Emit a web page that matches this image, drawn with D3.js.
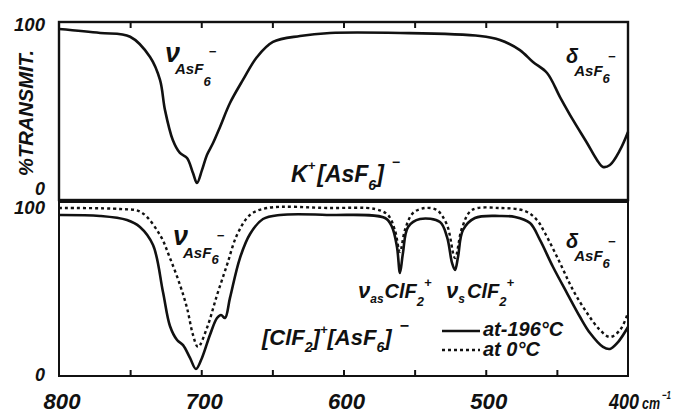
<!DOCTYPE html>
<html>
<head>
<meta charset="utf-8">
<script src="https://cdn.jsdelivr.net/npm/d3@7/dist/d3.min.js"></script>
<style>
  body { margin: 0; background: #fff; }
  text { font-family: "Liberation Sans", Arial, sans-serif; font-style: italic; font-weight: bold; fill: #111; }
</style>
</head>
<body>
<div id="chart"></div>
<script>
// K+[AsF6]- spectrum (top panel), wavenumber in cm-1 and % transmission
var kWn = [800, 771, 750, 736, 729, 725.5, 720, 715, 710, 705.8, 703, 699.5, 696, 691.7, 686.8, 679.8, 670.7, 660.8, 649.6, 630.6, 609.5, 560, 504, 490, 476, 466.8, 456.9, 447.8, 438.7, 428.8, 421.8, 417.6, 412.7, 405.6, 400];
var kT  = [97, 94.6, 92.3, 80.1, 66.3, 48.2, 30.1, 22.3, 19.3, 10.2, 4.2, 12, 21.1, 28.3, 38, 52.4, 66.3, 80.1, 89.2, 92.8, 94.6, 94.6, 92.8, 90.4, 84.3, 77.1, 70.5, 56, 42.2, 28.3, 18.1, 13.9, 15.1, 24.1, 34.9];

// [ClF2]+[AsF6]- at -196 C (bottom panel, solid)
var coldWn = [800, 771.2, 752.2, 743.1, 733.9, 726.9, 722, 717, 712.8, 707.9, 703.7, 699.5, 693.9, 688.9, 686.1, 683.3, 679.8, 672.8, 665.7, 656.6, 644.6, 609.5, 570.8, 565.9, 562.4, 560.3, 558.2, 554.6, 546.2, 532.2, 527.2, 523.7, 521.6, 519.5, 516, 507.6, 490, 479.4, 468.9, 461.9, 452.7, 442.9, 433.7, 426.7, 417.6, 412.7, 407, 400];
var coldT  = [95.3, 94.7, 92.3, 88.2, 77.5, 49.7, 29.6, 21.3, 18.3, 10.7, 4.1, 10.7, 24.3, 34.3, 36.1, 34.3, 46.2, 69.8, 84, 92.9, 95.3, 95.3, 93.5, 88.2, 76.3, 61, 72.8, 88.2, 92.9, 91.1, 82.2, 66.9, 62.7, 70.4, 86.4, 93.5, 94.7, 94.1, 90.5, 80.5, 64.5, 49.1, 34.9, 25.4, 17.2, 16, 20.1, 29];

// [ClF2]+[AsF6]- at 0 C (bottom panel, dotted)
var warmWn = [800, 757.1, 742.4, 729, 722, 714.9, 710, 705.8, 702.3, 696, 688.9, 681.9, 674.9, 665.7, 653.8, 609.5, 577.9, 568.8, 563.9, 560.3, 556.8, 551.2, 542.8, 534.4, 527.2, 521.6, 516.7, 509.7, 490, 472.4, 464, 458.4, 447.8, 438.7, 428.8, 419.7, 412.7, 405.6, 400];
var warmT  = [99.4, 98.8, 97, 83.4, 69.8, 53.8, 40.2, 24.3, 17.2, 28.4, 47.9, 65.7, 83.4, 95.3, 99.4, 99.4, 98.8, 95.3, 86.4, 73.4, 86.4, 96.4, 99.4, 98.2, 89.3, 69.8, 87.6, 98.2, 99.4, 97.6, 92.3, 84.6, 66.9, 50.9, 37.3, 27.2, 23.1, 27.2, 37.3];

var tickVals  = [750, 700, 650, 600, 550, 500, 450];
var xLabels   = [800, 700, 600, 500, 400];
var yLabels   = [100, 0];

var width = 675, height = 413;
var svg = d3.select("#chart").append("svg")
    .attr("width", width)
    .attr("height", height);

var ink = "#111";

// scales
var x = d3.scaleLinear().domain([800, 400]).range([59, 628]);
var yTop = d3.scaleLinear().domain([0, 100]).range([190, 24]);
var yBot = d3.scaleLinear().domain([0, 100]).range([376, 207]);

function zip(wn, t) { return wn.map(function(w, i) { return {wn: w, t: t[i]}; }); }

// panel frames
svg.append("rect").attr("x", 59).attr("y", 22).attr("width", 569).attr("height", 178)
  .attr("fill", "none").attr("stroke", ink).attr("stroke-width", 2.4);
svg.append("rect").attr("x", 59).attr("y", 202).attr("width", 569).attr("height", 174)
  .attr("fill", "none").attr("stroke", ink).attr("stroke-width", 2);

// inner ticks: top edge of the top panel and bottom edge of the bottom panel
var topTicks = svg.append("g").attr("transform", "translate(0,22)")
  .call(d3.axisBottom(x).tickValues(tickVals).tickSize(6).tickFormat(""));
var botTicks = svg.append("g").attr("transform", "translate(0,376)")
  .call(d3.axisTop(x).tickValues(tickVals).tickSize(6).tickFormat(""));
[topTicks, botTicks].forEach(function(g) {
  g.select(".domain").remove();
  g.selectAll("line").attr("stroke", ink).attr("stroke-width", 2);
});

// spectra
function lineFor(y) {
  return d3.line()
    .curve(d3.curveCatmullRom.alpha(0.5))
    .x(function(d) { return x(d.wn); })
    .y(function(d) { return y(d.t); });
}

svg.append("path").datum(zip(kWn, kT))
  .attr("fill", "none").attr("stroke", ink).attr("stroke-width", 2.6)
  .attr("d", lineFor(yTop));

svg.append("path").datum(zip(warmWn, warmT))
  .attr("fill", "none").attr("stroke", ink).attr("stroke-width", 2.4)
  .attr("stroke-dasharray", "3,3")
  .attr("d", lineFor(yBot));

svg.append("path").datum(zip(coldWn, coldT))
  .attr("fill", "none").attr("stroke", ink).attr("stroke-width", 2.6)
  .attr("d", lineFor(yBot));

// x tick labels (narrow hand lettering); the last one sits left of its tick to leave room for the unit
svg.selectAll(".xl").data(xLabels).enter().append("text")
  .attr("class", "xl")
  .attr("x", function(d) { return d === 400 ? x(d) - 4 : x(d) + 3; })
  .attr("y", 409)
  .attr("text-anchor", "middle")
  .attr("textLength", function(d) { return d === 400 ? 30 : 37; })
  .attr("lengthAdjust", "spacingAndGlyphs")
  .style("font-size", "22px")
  .text(function(d) { return d; });

svg.append("text").attr("x", x(400) + 14).attr("y", 409)
  .attr("textLength", 18).attr("lengthAdjust", "spacingAndGlyphs")
  .style("font-size", "16px").text("cm");
svg.append("text").attr("x", x(400) + 34).attr("y", 399)
  .attr("textLength", 9).attr("lengthAdjust", "spacingAndGlyphs")
  .style("font-size", "11px").text("−1");

// y tick labels for both panels
[yTop, yBot].forEach(function(y) {
  svg.selectAll(null).data(yLabels).enter().append("text")
    .attr("x", 45)
    .attr("y", function(d) { return y(d) + (d === 0 ? 5 : 7); })
    .attr("text-anchor", "end")
    .attr("textLength", function(d) { return d === 0 ? 10 : 31; })
    .attr("lengthAdjust", "spacingAndGlyphs")
    .style("font-size", "19px")
    .text(function(d) { return d; });
});

svg.append("text")
  .attr("transform", "translate(33,113) rotate(-90)")
  .attr("text-anchor", "middle")
  .attr("textLength", 126)
  .attr("lengthAdjust", "spacingAndGlyphs")
  .style("font-size", "20px")
  .text("%TRANSMIT.");

// annotation with tspans: parts = [text, baseline y, font size, dx]
function label(x0, parts) {
  var t = svg.append("text").attr("x", x0);
  parts.forEach(function(p) {
    var s = t.append("tspan").attr("y", p[1]).style("font-size", p[2] + "px").text(p[0]);
    if (p[3]) s.attr("dx", p[3]);
  });
  return t;
}

label(165, [["ν", 62, 27], ["AsF", 74, 15, -5], ["6", 86, 13], ["−", 56, 13, -2]]);
label(566, [["δ", 63, 20], ["AsF", 76, 15, -4], ["6", 83, 13], ["−", 61, 13, -2]]);
label(291, [["K", 182, 23], ["+", 170, 13], ["[AsF", 182, 23, 2], ["6", 190, 14], ["]", 182, 23], ["−", 167, 14, 8]]);

label(173, [["ν", 245, 27], ["AsF", 258, 15, -5], ["6", 264, 13], ["−", 240, 13, -2]]);
label(566, [["δ", 248, 20], ["AsF", 261, 15, -4], ["6", 268, 13], ["−", 246, 13, -2]]);

label(358, [["ν", 298, 22], ["as", 303, 12], ["ClF", 298, 20, 1], ["2", 306, 13], ["+", 287, 13]]);
label(446, [["ν", 298, 22], ["s", 303, 12], ["ClF", 298, 20, 2], ["2", 306, 13], ["+", 287, 13]]);

label(262, [["[ClF", 345, 22], ["2", 352, 14], ["]", 345, 22], ["+", 334, 13], ["[AsF", 345, 22], ["6", 352, 14], ["]", 345, 22], ["−", 331, 16, 8]]);

// legend
svg.append("line").attr("x1", 442).attr("x2", 480).attr("y1", 331).attr("y2", 331)
  .attr("stroke", ink).attr("stroke-width", 2.6);
svg.append("line").attr("x1", 442).attr("x2", 480).attr("y1", 350).attr("y2", 350)
  .attr("stroke", ink).attr("stroke-width", 2.4).attr("stroke-dasharray", "3,3");
svg.append("text").attr("x", 483).attr("y", 336).style("font-size", "20px").text("at-196°C");
svg.append("text").attr("x", 483).attr("y", 356).style("font-size", "20px").text("at  0°C");
</script>
</body>
</html>
